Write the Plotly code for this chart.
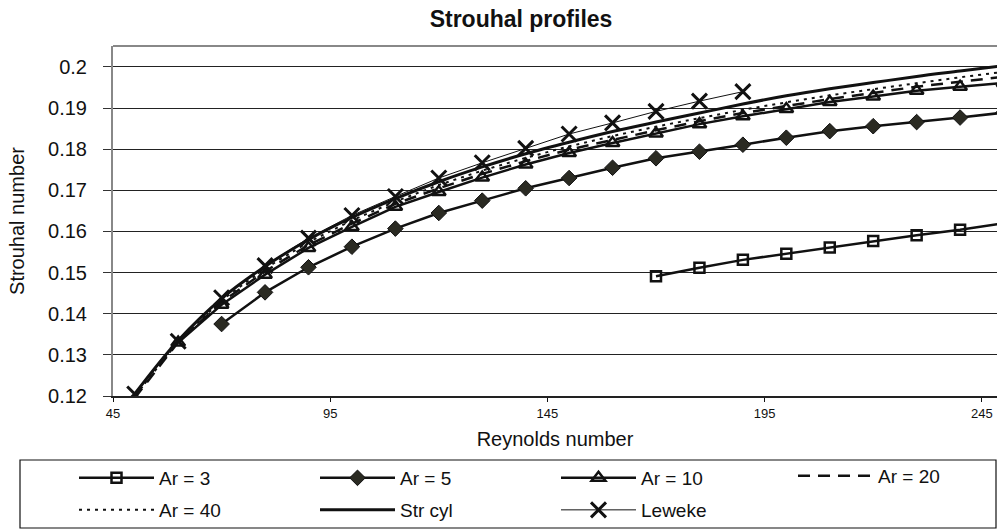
import plotly.graph_objects as go

# ---- data ----
re_ar3 = [170, 180, 190, 200, 210, 220, 230, 240, 250]
st_ar3 = [0.1491, 0.1512, 0.1531, 0.1546, 0.1561, 0.1577, 0.1591, 0.1604, 0.1620]

re_ar5 = [70, 80, 90, 100, 110, 120, 130, 140, 150, 160, 170, 180, 190, 200, 210, 220, 230, 240, 250]
st_ar5 = [0.1375, 0.1452, 0.1513, 0.1563, 0.1607, 0.1645, 0.1675, 0.1705, 0.1730, 0.1755,
          0.1778, 0.1794, 0.1811, 0.1828, 0.1844, 0.1856, 0.1866, 0.1877, 0.1889]

re_ar10 = [60, 70, 80, 90, 100, 110, 120, 130, 140, 150, 160, 170, 180, 190, 200, 210, 220, 230, 240, 250]
st_ar10 = [0.1330, 0.1422, 0.1495, 0.1560, 0.1611, 0.1660, 0.1696, 0.1731, 0.1763, 0.1791,
           0.1815, 0.1838, 0.1861, 0.1880, 0.1898, 0.1915, 0.1928, 0.1942, 0.1952, 0.1961]

re_full = [50, 60, 70, 80, 90, 100, 110, 120, 130, 140, 150, 160, 170, 180, 190, 200, 210, 220, 230, 240, 250]
st_ar20 = [0.1195, 0.1331, 0.1428, 0.1503, 0.1567, 0.1619, 0.1667, 0.1705, 0.1740, 0.1771, 0.1799,
           0.1823, 0.1846, 0.1868, 0.1888, 0.1905, 0.1922, 0.1937, 0.1952, 0.1964, 0.1976]
st_ar40 = [0.1200, 0.1332, 0.1433, 0.1510, 0.1574, 0.1627, 0.1673, 0.1713, 0.1748, 0.1779, 0.1807,
           0.1832, 0.1855, 0.1876, 0.1896, 0.1914, 0.1931, 0.1946, 0.1961, 0.1975, 0.1988]
st_cyl = [0.1205, 0.1335, 0.1437, 0.1515, 0.1580, 0.1634, 0.1680, 0.1721, 0.1757, 0.1789, 0.1817,
          0.1843, 0.1866, 0.1888, 0.1910, 0.1930, 0.1947, 0.1962, 0.1977, 0.1990, 0.2003]

re_leweke = [50, 60, 70, 80, 90, 100, 110, 120, 130, 140, 150, 160, 170, 180, 190]
st_leweke = [0.1205, 0.1333, 0.1439, 0.1517, 0.1584, 0.1639, 0.1685, 0.1730, 0.1767, 0.1802,
             0.1837, 0.1864, 0.1892, 0.1917, 0.1940]

x_tickvals = [45, 95, 145, 195, 245]
x_ticktext = ["45", "95", "145", "195", "245"]
y_tickvals = [0.12, 0.13, 0.14, 0.15, 0.16, 0.17, 0.18, 0.19, 0.20]
y_ticktext = ["0.12", "0.13", "0.14", "0.15", "0.16", "0.17", "0.18", "0.19", "0.2"]

FONT = "Liberation Sans, Arial, sans-serif"
INK = "#111111"

fig = go.Figure()

fig.add_trace(go.Scatter(
    x=re_ar3, y=st_ar3, name="Ar = 3", mode="lines+markers", legend="legend",
    line=dict(color=INK, width=2.5),
    marker=dict(symbol="square-open", size=10, color=INK, line=dict(width=2.5, color=INK))))
fig.add_trace(go.Scatter(
    x=re_ar5, y=st_ar5, name="Ar = 5", mode="lines+markers", legend="legend",
    line=dict(color=INK, width=2.5),
    marker=dict(symbol="diamond", size=12, color="#2a2a22", line=dict(width=1, color=INK))))
fig.add_trace(go.Scatter(
    x=re_ar10, y=st_ar10, name="Ar = 10", mode="lines+markers", legend="legend",
    line=dict(color=INK, width=2.5),
    marker=dict(symbol="triangle-up-open", size=12, color=INK, line=dict(width=2.5, color=INK))))
fig.add_trace(go.Scatter(
    x=re_full, y=st_ar20, name="Ar = 20", mode="lines", legend="legend3",
    line=dict(color=INK, width=2.5, dash="12px,8px")))
fig.add_trace(go.Scatter(
    x=re_full, y=st_ar40, name="Ar = 40", mode="lines", legend="legend2",
    line=dict(color=INK, width=2, dash="3px,5px")))
fig.add_trace(go.Scatter(
    x=re_full, y=st_cyl, name="Str cyl", mode="lines", legend="legend2",
    line=dict(color=INK, width=3, shape="spline")))
fig.add_trace(go.Scatter(
    x=re_leweke, y=st_leweke, name="Leweke", mode="lines+markers", legend="legend2",
    line=dict(color=INK, width=1),
    marker=dict(symbol="x-thin-open", size=15, color=INK, line=dict(width=3, color=INK))))

# plot geometry (pixels): left 113, right 997, top 46, bottom 396
L, R, T, B = 113, 997, 46, 396
W, H = 997, 530
def px_x(p):
    return (p - L) / (R - L)
def px_y(p):
    return (B - p) / (B - T)

legend_common = dict(orientation="h", xref="container", yref="container",
                     xanchor="left", yanchor="middle",
                     entrywidth=151, entrywidthmode="pixels", itemwidth=75,
                     font=dict(size=19, family=FONT, color=INK),
                     bgcolor="rgba(0,0,0,0)", borderwidth=0,
                     traceorder="normal", itemclick=False, itemdoubleclick=False)

fig.update_layout(
    width=W, height=H,
    margin=dict(l=L, r=W - R, t=T, b=H - B, autoexpand=False),
    paper_bgcolor="white", plot_bgcolor="white",
    font=dict(family=FONT, color=INK),
    title=dict(text="<b>Strouhal profiles</b>", font=dict(size=23, family=FONT, color=INK),
               x=521 / W, xref="container", xanchor="center",
               y=1 - 19 / H, yref="container", yanchor="middle"),
    showlegend=True,
    legend=dict(legend_common, x=74 / W, y=1 - 478 / H),
    legend3=dict(legend_common, x=793 / W, y=1 - 476 / H),
    legend2=dict(legend_common, x=74 / W, y=1 - 510 / H),
    xaxis=dict(range=[45, 248.5], tickmode="array", tickvals=x_tickvals, ticktext=x_ticktext,
               tickfont=dict(size=13), ticks="outside", ticklen=4, tickcolor=INK,
               showgrid=False, zeroline=False, showline=True, linecolor="#222222", linewidth=2,
               automargin=False,
               title=dict(text="Reynolds number", font=dict(size=20), standoff=12)),
    yaxis=dict(range=[0.12, 0.2051], tickmode="array", tickvals=y_tickvals, ticktext=y_ticktext,
               tickfont=dict(size=20), ticks="outside", ticklen=8, tickcolor="#333333",
               ticklabelstandoff=12, automargin=False,
               showgrid=True, gridcolor="#222222", gridwidth=1, zeroline=False,
               showline=True, linecolor="#888888", linewidth=2,
               title=dict(text="Strouhal number", font=dict(size=20), standoff=18)),
    shapes=[
        # top border of plot area
        dict(type="line", xref="paper", yref="paper", x0=0, x1=1, y0=1, y1=1,
             line=dict(color="#888888", width=2)),
        # legend box
        dict(type="rect", xref="paper", yref="paper",
             x0=px_x(20), x1=px_x(996), y0=px_y(528), y1=px_y(460),
             line=dict(color=INK, width=1.2), fillcolor="rgba(0,0,0,0)"),
    ],
)

fig.write_html("out.html",
               config={"displayModeBar": False},
               post_script="document.body.style.margin='0';document.body.style.padding='0';"
                           "document.body.style.overflow='hidden';")
